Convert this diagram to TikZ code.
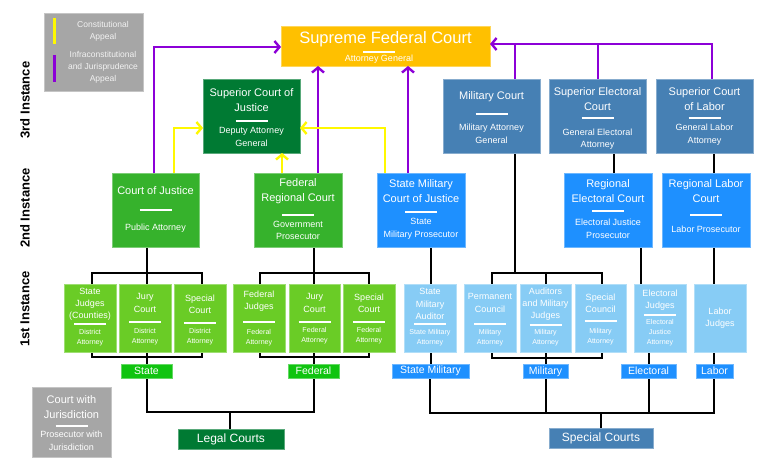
\documentclass[tikz,border=0pt]{standalone}
\usepackage{fontspec}
\setmainfont{Liberation Sans}
\usetikzlibrary{arrows.meta,backgrounds}
\definecolor{supY}{RGB}{255,192,0}
\definecolor{dgreen}{RGB}{0,122,51}
\definecolor{mgreen}{RGB}{54,178,44}
\definecolor{lgreen}{RGB}{106,204,38}
\definecolor{bgreen}{RGB}{16,196,16}
\definecolor{sblue}{RGB}{70,128,180}
\definecolor{bblue}{RGB}{30,144,255}
\definecolor{lblue}{RGB}{135,204,245}
\definecolor{lgray}{RGB}{166,166,166}
\definecolor{purp}{RGB}{140,0,215}
\definecolor{yel}{RGB}{255,248,0}
\newcommand\cbox[6]{\node[cboxsty, fill=#2, draw=#2!65!white, minimum width={#5-#3}, minimum height={#6-#4}] (#1) at ({(#3+#5)/2},{(#4+#6)/2}) {};}
\newcommand\ctext[5]{\node[#3] (#1#2) at (#1 |- 0,#4) {#5};}
\newcommand\crule[2]{\draw[rulesty] (#1 |- 0,#2) ++(-16,0) -- ++(32,0);}
\tikzset{
 cboxsty/.style={rectangle, inner sep=0pt, outer sep=0pt, line width=0.7pt},
 rulesty/.style={white, line width=2pt},
 tbig/.style={text=white, inner sep=0pt, align=center, font=\fontsize{16.5}{18}\selectfont},
 tA/.style={text=white, inner sep=0pt, align=center, font=\fontsize{11}{15}\selectfont},
 sA/.style={text=white, inner sep=0pt, align=center, font=\fontsize{9}{12.5}\selectfont},
 tB/.style={text=white, inner sep=0pt, align=center, font=\fontsize{9}{12.2}\selectfont},
 sB/.style={text=white, inner sep=0pt, align=center, font=\fontsize{7.1}{10.2}\selectfont},
 legtxt/.style={text=white!95!black, inner sep=0pt, align=center, font=\fontsize{8.5}{12}\selectfont},
 lab/.style={rectangle, inner sep=0pt, outer sep=0pt, text=white, font=\fontsize{10.5}{12}\selectfont, minimum height=14pt, line width=0.7pt},
 botlab/.style={rectangle, inner sep=0pt, outer sep=0pt, text=white, font=\fontsize{12}{14}\selectfont, minimum height=20pt, line width=0.7pt},
 inst/.style={rotate=90, inner sep=0pt, font=\bfseries\fontsize{13}{15}\selectfont},
 blk/.style={black, line width=2.5pt},
 pl/.style={purp, line width=2.4pt},
 yl/.style={yel, line width=2.4pt},
 arr/.style={-{Straight Barb[length=5pt,width=12pt]}},
}
\begin{document}
\begin{tikzpicture}[x=1pt,y=-1pt]
\useasboundingbox (0,0) rectangle (763,460);
% instance labels
\node[inst] (i3) at (25,100) {3rd Instance};
\node[inst] (i2) at (25,208) {2nd Instance};
\node[inst] (i1) at (25,309) {1st Instance};
% legend top
\cbox{legT}{lgray}{44}{13}{143}{91}
\coordinate (ly1) at (54,18); \coordinate (ly2) at (54,44);
\coordinate (lp1) at (54,55); \coordinate (lp2) at (54,82);
\draw[yel, line width=3pt] (ly1) -- (ly2);
\draw[purp, line width=3pt] (lp1) -- (lp2);
\node[legtxt] (legC) at (103,31) {Constitutional\\Appeal};
\node[legtxt] (legI) at (103,67.5) {Infraconstitutional\\and Jurisprudence\\Appeal};
% legend bottom
\cbox{legB}{lgray}{32}{387}{111}{457}
\ctext{legB}{t}{tA}{407.5}{Court with\\Jurisdiction}
\crule{legB}{426}
\ctext{legB}{s}{sA}{441}{Prosecutor with\\Jurisdiction}
% Supreme
\cbox{SFC}{supY}{281}{26}{490}{66}
\ctext{SFC}{t}{tbig}{39.5}{Supreme Federal Court}
\draw[rulesty] (363,52) -- (395,52);
\node[sA] (SFCs) at (379,59.5) {Attorney General};
% 3rd instance
\cbox{SCJ}{dgreen}{203}{79}{300}{153}
\ctext{SCJ}{t}{tA}{100.5}{Superior Court of\\Justice}
\crule{SCJ}{121}
\ctext{SCJ}{s}{sA}{137}{Deputy Attorney\\General}
\cbox{MC}{sblue}{443}{79}{540}{153}
\ctext{MC}{t}{tA}{97}{Military Court}
\crule{MC}{114}
\ctext{MC}{s}{sA}{134}{Military Attorney\\General}
\cbox{SEC}{sblue}{549}{79}{646}{153}
\ctext{SEC}{t}{tA}{99.5}{Superior Electoral\\Court}
\crule{SEC}{118}
\ctext{SEC}{s}{sA}{139}{General Electoral\\Attorney}
\cbox{SCL}{sblue}{656}{79}{753}{153}
\ctext{SCL}{t}{tA}{99.5}{Superior Court\\of Labor}
\crule{SCL}{118}
\ctext{SCL}{s}{sA}{134.5}{General Labor\\Attorney}
% 2nd instance
\cbox{CJ}{mgreen}{112}{173}{199}{247}
\ctext{CJ}{t}{tA}{191}{Court of Justice}
\crule{CJ}{210}
\ctext{CJ}{s}{sA}{228}{Public Attorney}
\cbox{FRC}{mgreen}{254}{173}{342}{247}
\ctext{FRC}{t}{tA}{191.5}{Federal\\Regional Court}
\crule{FRC}{215}
\ctext{FRC}{s}{sA}{230.5}{Government\\Prosecutor}
\cbox{SMCJ}{bblue}{377}{173}{465}{247}
\ctext{SMCJ}{t}{tA}{191}{State Military\\Court of Justice}
\crule{SMCJ}{212}
\ctext{SMCJ}{s}{sA}{229}{State\\Military Prosecutor}
\cbox{REC}{bblue}{564}{173}{652}{247}
\ctext{REC}{t}{tA}{191}{Regional\\Electoral Court}
\crule{REC}{211}
\ctext{REC}{s}{sA}{229}{Electoral Justice\\Prosecutor}
\cbox{RLC}{bblue}{662}{173}{750}{247}
\ctext{RLC}{t}{tA}{191.5}{Regional Labor\\Court}
\crule{RLC}{215}
\ctext{RLC}{s}{sA}{229}{Labor Prosecutor}
% 1st instance
\cbox{SJ}{lgreen}{64}{284}{116}{352}
\ctext{SJ}{t}{tB}{304}{State\\Judges\\(Counties)}
\crule{SJ}{324}
\ctext{SJ}{s}{sB}{338}{District\\Attorney}
\cbox{JCa}{lgreen}{119}{284}{171}{352}
\ctext{JCa}{t}{tB}{303}{Jury\\Court}
\crule{JCa}{322}
\ctext{JCa}{s}{sB}{337}{District\\Attorney}
\cbox{SCa}{lgreen}{174}{284}{226}{352}
\ctext{SCa}{t}{tB}{304}{Special\\Court}
\crule{SCa}{323}
\ctext{SCa}{s}{sB}{337}{District\\Attorney}
\cbox{FJ}{lgreen}{233}{284}{285}{352}
\ctext{FJ}{t}{tB}{301}{Federal\\Judges}
\crule{FJ}{322}
\ctext{FJ}{s}{sB}{338}{Federal\\Attorney}
\cbox{JCb}{lgreen}{289}{284}{340}{352}
\ctext{JCb}{t}{tB}{303}{Jury\\Court}
\crule{JCb}{322}
\ctext{JCb}{s}{sB}{336}{Federal\\Attorney}
\cbox{SCb}{lgreen}{343}{284}{395}{352}
\ctext{SCb}{t}{tB}{303}{Special\\Court}
\crule{SCb}{322}
\ctext{SCb}{s}{sB}{336}{Federal\\Attorney}
\cbox{SMA}{lblue}{404}{284}{456}{352}
\ctext{SMA}{t}{tB}{304}{State\\Military\\Auditor}
\crule{SMA}{324}
\ctext{SMA}{s}{sB}{338}{State Military\\Attorney}
\cbox{PC}{lblue}{464}{284}{516}{352}
\ctext{PC}{t}{tB}{303}{Permanent\\Council}
\crule{PC}{324}
\ctext{PC}{s}{sB}{338}{Military\\Attorney}
\cbox{AMJ}{lblue}{520}{284}{571}{352}
\ctext{AMJ}{t}{tB}{304}{Auditors\\and Military\\Judges}
\crule{AMJ}{325}
\ctext{AMJ}{s}{sB}{338}{Military\\Attorney}
\cbox{SCo}{lblue}{575}{284}{626}{352}
\ctext{SCo}{t}{tB}{303}{Special\\Council}
\crule{SCo}{321}
\ctext{SCo}{s}{sB}{337}{Military\\Attorney}
\cbox{EJ}{lblue}{634}{284}{686}{352}
\ctext{EJ}{t}{tB}{300}{Electoral\\Judges}
\crule{EJ}{315}
\ctext{EJ}{s}{sB}{332.5}{Electoral\\Justice\\Attorney}
\cbox{LJ}{lblue}{694}{284}{746}{352}
\ctext{LJ}{t}{tB}{318}{Labor\\Judges}
% labels
\node[lab, fill=bgreen, draw=bgreen!65!white, minimum width=51pt] (StL) at (146.5,371) {State};
\node[lab, fill=bgreen, draw=bgreen!65!white, minimum width=51pt] (FeL) at (313.5,371) {Federal};
\node[lab, fill=bblue, draw=bblue!65!white, minimum width=77pt] (SMiL) at (430.5,371) {State Military};
\node[lab, fill=bblue, draw=bblue!65!white, minimum width=45pt] (MiL) at (545.5,371.5) {Military};
\node[lab, fill=bblue, draw=bblue!65!white, minimum width=55pt] (ElL) at (648.5,371) {Electoral};
\node[lab, fill=bblue, draw=bblue!65!white, minimum width=37pt] (LaL) at (714.5,371) {Labor};
\node[botlab, fill=dgreen, draw=dgreen!65!white, minimum width=106pt] (LegalC) at (231,439) {Legal Courts};
\node[botlab, fill=sblue, draw=sblue!65!white, minimum width=104pt] (SpecialC) at (601,438) {Special Courts};
% connectors behind
\begin{scope}[on background layer]
\draw[blk] (92,273) rectangle (202,357);
\draw[blk] (260,273) rectangle (369,357);
\draw[blk] (492,273) rectangle (602,358);
\draw[blk] (CJ.south -| 147,0) -- (StL.north -| 147,0);
\draw[blk] (StL.south -| 147,0) -- (147,412) -- (314,412) -- (FeL.south -| 314,0);
\draw[blk] (230,412) -- (LegalC.north -| 230,0);
\draw[blk] (FRC.south -| 314,0) -- (FeL.north -| 314,0);
\draw[blk] (SMCJ.south -| 431,0) -- (SMiL.north -| 431,0);
\draw[blk] (SMiL.south -| 430,0) -- (430,413) -- (714,413) -- (LaL.south -| 714,0);
\draw[blk] (MC.south -| 515,0) -- (515,273);
\draw[blk] (546,273) -- (MiL.north -| 546,0);
\draw[blk] (MiL.south -| 546,0) -- (546,413);
\draw[blk] (SEC.south -| 614,0) -- (REC.north -| 614,0);
\draw[blk] (REC.south -| 641,0) -- (EJ.north -| 641,0);
\draw[blk] (EJ.south -| 649,0) -- (ElL.north -| 649,0);
\draw[blk] (ElL.south -| 649,0) -- (649,413);
\draw[blk] (SCL.south -| 714,0) -- (RLC.north -| 714,0);
\draw[blk] (RLC.south -| 714,0) -- (LaL.north -| 714,0);
\draw[blk] (601,413) -- (SpecialC.north -| 601,0);
\end{scope}
% purple appeals
\draw[pl, arr] (CJ.north -| 154,0) -- (154,47) -- (SFC.west |- 0,47);
\draw[pl, arr] (FRC.north -| 318,0) -- (SFC.south -| 318,0);
\draw[pl, arr] (SMCJ.north -| 408,0) -- (SFC.south -| 408,0);
\draw[pl] (MC.north -| 515,0) -- (515,44);
\draw[pl] (SEC.north -| 598,0) -- (598,44);
\draw[pl, arr] (SCL.north -| 712,0) -- (712,44) -- (SFC.east |- 0,44);
% yellow appeals
\draw[yl, arr] (CJ.north -| 174,0) -- (174,128) -- (SCJ.west |- 0,128);
\draw[yl, arr] (FRC.north -| 282,0) -- (SCJ.south -| 282,0);
\draw[yl, arr] (SMCJ.north -| 385,0) -- (385,128) -- (SCJ.east |- 0,128);
\end{tikzpicture}
\end{document}
